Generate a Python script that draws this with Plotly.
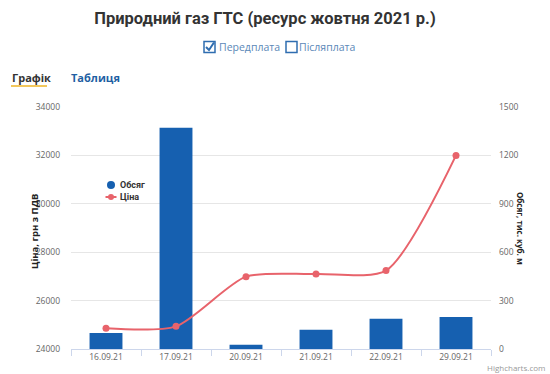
import plotly.graph_objects as go

dates = ["16.09.21", "17.09.21", "20.09.21", "21.09.21", "22.09.21", "29.09.21"]
volume = [99, 1372, 27, 120, 188, 199]          # Обсяг, тис. куб. м (right axis)
price = [24853, 24935, 26990, 27100, 27240, 32000]  # Ціна, грн з ПДВ (left axis)

price_ticks = [24000, 26000, 28000, 30000, 32000, 34000]
volume_ticks = [0, 300, 600, 900, 1200, 1500]

W, H = 550, 374
L, R, T, B = 71, 59, 107, 25
PW, PH = W - L - R, H - T - B

def px(x):
    return (x - L) / PW

def py(y):
    return (H - B - y) / PH

BAR = "#1660b0"
LINE = "#e8636b"
TICKFONT = dict(family="Open Sans, sans-serif", size=8.5, color="#666666")

fig = go.Figure()
fig.add_trace(go.Bar(
    x=dates, y=volume, name="Обсяг", marker=dict(color=BAR, line=dict(width=0)),
    yaxis="y", showlegend=False,
))
fig.add_trace(go.Scatter(
    x=dates, y=price, name="Ціна", mode="lines+markers",
    line=dict(color=LINE, width=2, shape="spline", smoothing=0.7),
    marker=dict(color=LINE, size=7), yaxis="y2", showlegend=False,
))

fig.update_layout(
    width=W, height=H,
    margin=dict(l=L, r=R, t=T, b=B),
    paper_bgcolor="white", plot_bgcolor="white",
    bargap=0.53,
    title=dict(
        text="<b>Природний газ ГТС (ресурс жовтня 2021 р.)</b>",
        x=265 / W, xanchor="center", xref="container",
        y=1 - 18 / H, yanchor="middle", yref="container",
        font=dict(family="Roboto, sans-serif", size=16.5, color="#333333"),
    ),
    xaxis=dict(
        type="category", showgrid=False, showline=True, linecolor="#ccd6eb",
        ticks="outside", tickson="boundaries", ticklen=6, tickcolor="#ccd6eb",
        tickfont=TICKFONT, fixedrange=True,
    ),
    yaxis=dict(
        side="right", range=[0, 1500], tickvals=volume_ticks, tickformat="d",
        showgrid=True, gridcolor="#e6e6e6", zeroline=False,
        tickfont=TICKFONT, ticklabelstandoff=7,
    ),
    yaxis2=dict(
        side="left", overlaying="y", range=[24000, 34000], tickvals=price_ticks,
        tickformat="d",
        showgrid=False, zeroline=False, tickfont=TICKFONT, ticklabelstandoff=10,
    ),
)

ann = []
shapes = []
# axis titles
ann.append(dict(text="<b>Ціна, грн з ПДВ</b>", x=px(25.5), y=py(232), xref="paper", yref="paper",
                textangle=-90, showarrow=False,
                font=dict(family="Open Sans, sans-serif", size=9.5, color="#222222")))
ann.append(dict(text="<b>Обсяг, тис. куб. м</b>", x=px(528.5), y=py(228), xref="paper", yref="paper",
                textangle=90, showarrow=False,
                font=dict(family="Open Sans, sans-serif", size=8, color="#222222")))
# checkboxes
CB = "#2f6db0"
CBT = "#5b88b8"
shapes.append(dict(type="rect", xref="paper", yref="paper", x0=px(204), x1=px(215),
                   y0=py(52.5), y1=py(41.5), line=dict(color=CB, width=1.5), fillcolor="white"))
shapes.append(dict(type="path", xref="paper", yref="paper",
                   path=f"M {px(206)} {py(47)} L {px(209)} {py(50)} L {px(214)} {py(42.5)}",
                   line=dict(color=CB, width=2)))
shapes.append(dict(type="rect", xref="paper", yref="paper", x0=px(286), x1=px(297),
                   y0=py(52.5), y1=py(41.5), line=dict(color=CB, width=1.5), fillcolor="white"))
ann.append(dict(text="Передплата", x=px(217), y=py(47), xref="paper", yref="paper",
                xanchor="left", yanchor="middle", showarrow=False,
                font=dict(family="Open Sans, sans-serif", size=10.5, color=CBT)))
ann.append(dict(text="Післяплата", x=px(297), y=py(47), xref="paper", yref="paper",
                xanchor="left", yanchor="middle", showarrow=False,
                font=dict(family="Open Sans, sans-serif", size=10.5, color=CBT)))
# tabs
ann.append(dict(text="<b>Графік</b>", x=px(10), y=py(77), xref="paper", yref="paper",
                xanchor="left", yanchor="middle", showarrow=False,
                font=dict(family="Open Sans, sans-serif", size=11, color="#333333")))
ann.append(dict(text="<b>Таблиця</b>", x=px(69), y=py(77), xref="paper", yref="paper",
                xanchor="left", yanchor="middle", showarrow=False,
                font=dict(family="Open Sans, sans-serif", size=11, color="#1f5fa3")))
shapes.append(dict(type="line", xref="paper", yref="paper", x0=px(11), x1=px(47),
                   y0=py(86), y1=py(86), line=dict(color="#f2c75c", width=2)))
# legend
shapes.append(dict(type="circle", xref="paper", yref="paper", x0=px(107), x1=px(115),
                   y0=py(189), y1=py(181), line=dict(width=0), fillcolor=BAR))
shapes.append(dict(type="line", xref="paper", yref="paper", x0=px(105.5), x1=px(116.5),
                   y0=py(197), y1=py(197), line=dict(color=LINE, width=2)))
shapes.append(dict(type="circle", xref="paper", yref="paper", x0=px(108), x1=px(114),
                   y0=py(200), y1=py(194), line=dict(width=0), fillcolor=LINE))
ann.append(dict(text="<b>Обсяг</b>", x=px(118), y=py(185), xref="paper", yref="paper",
                xanchor="left", yanchor="middle", showarrow=False,
                font=dict(family="Roboto, sans-serif", size=9, color="#333333")))
ann.append(dict(text="<b>Ціна</b>", x=px(118), y=py(197), xref="paper", yref="paper",
                xanchor="left", yanchor="middle", showarrow=False,
                font=dict(family="Roboto, sans-serif", size=9, color="#333333")))
# credits
ann.append(dict(text="Highcharts.com", x=px(547), y=py(367), xref="paper", yref="paper",
                xanchor="right", yanchor="middle", showarrow=False,
                font=dict(family="Open Sans, sans-serif", size=8, color="#999999")))

fig.update_layout(annotations=ann, shapes=shapes)
fig.write_html("out.html", config=dict(displayModeBar=False),
               post_script="document.body.style.margin='0';document.body.style.overflow='hidden';")
